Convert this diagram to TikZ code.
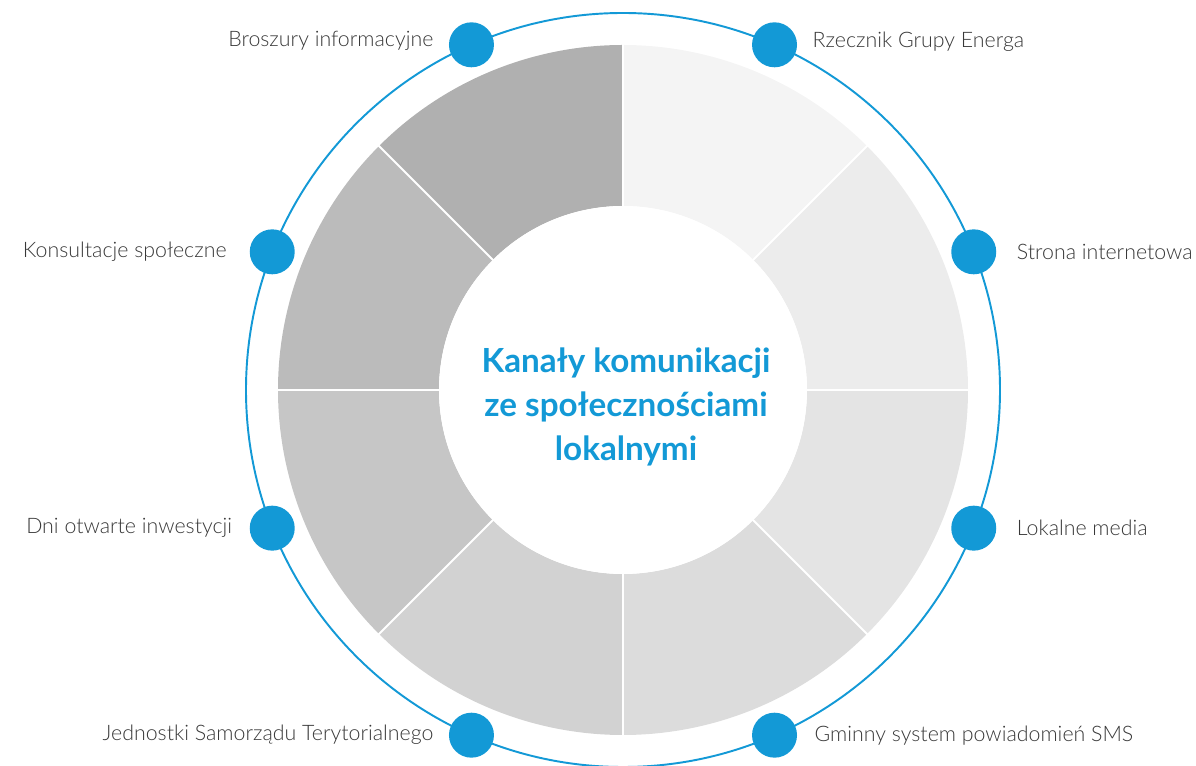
\documentclass[tikz,border=0pt]{standalone}
\usepackage{fontspec}
\setmainfont{Lato}
\newfontfamily\lightfont{Lato Light}
\usetikzlibrary{positioning}
\definecolor{energablue}{HTML}{1399D6}
\definecolor{labelgray}{HTML}{383838}

\begin{document}
\begin{tikzpicture}[
    x=0.02cm, y=0.02cm,
    dot/.style={circle, fill=energablue, minimum size=0.9cm, inner sep=0pt},
    channel/.style={text=labelgray, font=\lightfont\fontsize{12.15}{14}\selectfont, inner sep=0pt},
    title/.style={text=energablue, font=\fontsize{18.9}{25}\selectfont\bfseries, align=center}
]
\useasboundingbox (-623,-376) rectangle (573,390);

	% ring of grey sectors
	\foreach \a/\col in {45/F4F4F4, 0/ECECEC, -45/E4E4E4, -90/DCDCDC, -135/D2D2D2, 180/C6C6C6, 135/BBBBBB, 90/B0B0B0} {
        \definecolor{seg}{HTML}{\col}
        \fill[seg] (\a:345) arc[start angle=\a, end angle=\a+45, radius=345] -- (\a+45:184) arc[start angle=\a+45, end angle=\a, radius=184] -- cycle;
    }
	\foreach \a in {0,45,...,315} {
        \draw[white, line width=1.2pt] (\a:180) -- (\a:348);
    }
	\fill[white] (0,0) circle[radius=184];
\node[title] (kanaly) at (3,-17) {Kanały komunikacji\\ze społecznościami\\lokalnymi};

	\draw[energablue, line width=1.1pt] (0,0) circle[radius=377];
	\foreach \a/\n in {66.3/rzecznik, 21.5/strona, -21.5/media, -66.3/sms, -113.7/jst, -158.5/dni, 158.5/konsultacje, 113.7/broszury} {
        \node[dot] (\n) at (\a:377) {};
    }
\node[channel, right=0.3cm of rzecznik, yshift=2pt] {Rzecznik Grupy Energa};
\node[channel, right=0.4cm of strona] {Strona internetowa};
\node[channel, right=0.4cm of media] {Lokalne media};
\node[channel, right=0.34cm of sms] {Gminny system powiadomień SMS};
\node[channel, left=0.3cm of jst] {Jednostki Samorządu Terytorialnego};
\node[channel, left=0.34cm of dni] {Dni otwarte inwestycji};
\node[channel, left=0.45cm of konsultacje] {Konsultacje społeczne};
\node[channel, left=0.3cm of broszury, yshift=2pt] {Broszury informacyjne};
\end{tikzpicture}
\end{document}
